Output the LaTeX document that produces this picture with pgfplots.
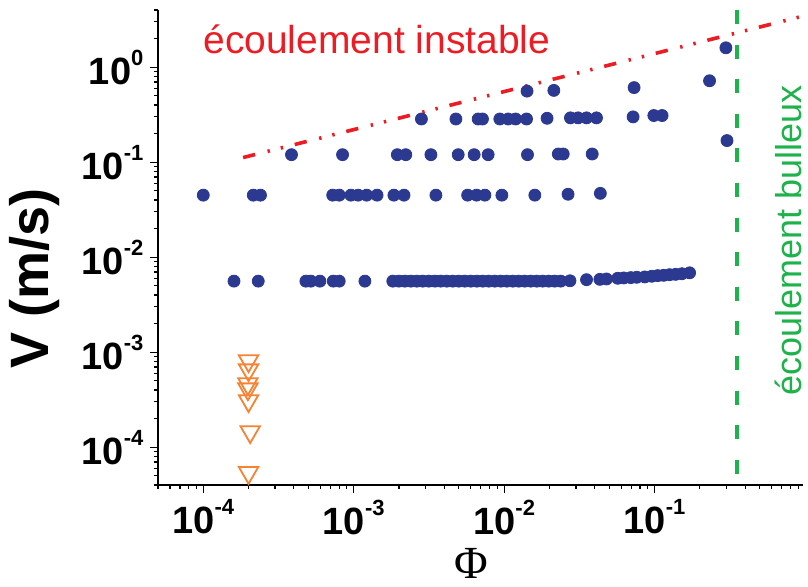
\documentclass[border=0pt]{standalone}
\usepackage{fontspec}
\setmainfont{Liberation Sans}
\newfontfamily\seriffont{Liberation Serif}
\usepackage{pgfplots}
\pgfplotsset{compat=1.18}
\definecolor{ptblue}{RGB}{43,57,144}
\definecolor{ptorange}{RGB}{246,130,50}
\definecolor{ecred}{RGB}{237,28,36}
\definecolor{ecgreen}{RGB}{30,178,75}
\newcommand{\tlab}[1]{\pgfmathtruncatemacro{\myexp}{round(#1)}10\raisebox{0.5em}{\fontsize{11}{11}\selectfont\myexp}}
\begin{document}
\begin{tikzpicture}
\begin{axis}[
  at={(79pt,50.5pt)}, anchor=south west,
  scale only axis, width=322.5pt, height=237.5pt,
  xmode=log, ymode=log, log basis x=10, log basis y=10,
  xmin=5e-5, xmax=0.97, ymin=4e-5, ymax=4,
  axis x line*=bottom, axis y line*=left,
  axis line style={line width=1pt, -},
  tick align=outside,
  major tick length=3.8pt, minor tick length=2pt,
  every tick/.style={black, line width=0.6pt},
  xticklabel={\tlab{\tick}}, yticklabel={\tlab{\tick}},
  ticklabel style={font=\bfseries\fontsize{19}{19}\selectfont},
  ylabel={V (m/s)},
  ylabel style={font=\bfseries\fontsize{27}{27}\selectfont, at={(axis description cs:-0.1907,0.434)}, anchor=center},
  clip mode=individual,
]
% red dash-dot-dot boundary
\addplot[ecred, line width=1.8pt, dash pattern=on 6.2pt off 6.4pt on 1.2pt off 5.6pt on 1.2pt off 6pt]
  coordinates {(1.84e-4,0.112) (0.97,3.45)};
% green dashed boundary
\addplot[ecgreen, line width=1.8pt, dash pattern=on 7pt off 10.3pt]
  coordinates {(0.353,4) (0.353,4e-5)};
% blue circles
\addplot[only marks, mark=*, mark size=3pt, color=ptblue, mark options={fill=ptblue, draw=ptblue}]
  coordinates {
  (1.0e-4,0.045) (2.15e-4,0.045) (2.40e-4,0.045) (7.25e-4,0.045) (8.02e-4,0.045)
  (9.58e-4,0.045) (1.07e-3,0.045) (1.22e-3,0.045) (1.43e-3,0.045) (1.85e-3,0.045)
  (2.16e-3,0.045) (3.52e-3,0.045) (5.72e-3,0.045) (6.56e-3,0.045) (7.45e-3,0.045)
  (9.66e-3,0.045) (0.0160,0.045) (0.0266,0.046) (0.0436,0.047)
  (3.86e-4,0.12) (8.43e-4,0.12) (1.95e-3,0.12) (2.22e-3,0.12) (3.26e-3,0.12)
  (4.95e-3,0.12) (6.32e-3,0.12) (7.83e-3,0.12) (0.0143,0.12) (0.0229,0.122)
  (0.0247,0.122) (0.0385,0.122)
  (2.82e-3,0.285) (4.78e-3,0.285) (6.72e-3,0.285) (7.18e-3,0.285) (9.36e-3,0.285)
  (0.01063,0.285) (0.01191,0.285) (0.01409,0.285) (0.0193,0.29) (0.0276,0.293)
  (0.0310,0.293) (0.0353,0.293) (0.0411,0.293) (0.0720,0.30) (0.0989,0.31) (0.1122,0.31)
  (0.0142,0.56) (0.0214,0.57) (0.0731,0.61)
  (0.232,0.72) (0.298,1.6) (0.303,0.169)
  (1.60e-4,5.6e-3) (2.32e-4,5.6e-3) (4.81e-4,5.6e-3) (5.19e-4,5.6e-3) (5.96e-4,5.6e-3)
  (7.31e-4,5.6e-3) (8.01e-4,5.6e-3) (1.187e-3,5.6e-3) (1.82e-3,5.6e-3) (2.00e-3,5.6e-3)
  (2.19e-3,5.6e-3) (2.40e-3,5.6e-3) (2.63e-3,5.6e-3) (2.88e-3,5.6e-3) (3.16e-3,5.6e-3)
  (3.47e-3,5.6e-3) (3.79e-3,5.6e-3) (4.16e-3,5.6e-3) (4.56e-3,5.6e-3) (5.00e-3,5.6e-3)
  (5.48e-3,5.6e-3) (6.01e-3,5.6e-3) (6.59e-3,5.6e-3) (7.22e-3,5.6e-3) (7.91e-3,5.6e-3)
  (8.67e-3,5.6e-3) (9.51e-3,5.6e-3) (0.01042,5.6e-3) (0.01143,5.6e-3) (0.01253,5.6e-3)
  (0.01372,5.6e-3) (0.01504,5.6e-3) (0.01649,5.6e-3) (0.01807,5.6e-3) (0.01982,5.6e-3)
  (0.0217,5.6e-3) (0.0238,5.6e-3) (0.0274,5.65e-3) (0.0353,5.8e-3) (0.0433,5.85e-3)
  (0.0479,5.9e-3) (0.0569,6.0e-3) (0.0624,6.05e-3) (0.0695,6.1e-3) (0.0762,6.15e-3)
  (0.0861,6.2e-3) (0.0957,6.3e-3) (0.105,6.4e-3) (0.115,6.45e-3) (0.126,6.55e-3)
  (0.138,6.6e-3) (0.152,6.7e-3) (0.171,6.85e-3)
  };
% orange open down-triangles
\addplot[only marks, mark=triangle, mark size=5.6pt, color=ptorange, mark options={rotate=180, line width=0.9pt, draw=ptorange, fill=none}]
  coordinates {(2e-4,8.1e-4) (2e-4,6.5e-4) (1.98e-4,4.65e-4) (1.98e-4,4.1e-4) (2e-4,3.08e-4) (2.05e-4,1.45e-4) (2e-4,5.4e-5)};
\node[anchor=base west, text=ecred, font=\fontsize{19.5}{19.5}\selectfont, inner sep=0pt] at (axis description cs:0.0698,0.9095) {écoulement instable};
\node[rotate=90, anchor=base, text=ecgreen, font=\fontsize{18}{18}\selectfont, inner sep=0pt] at (axis description cs:0.9984,0.5158) {écoulement bulleux};
\node[anchor=center, font=\seriffont\fontsize{23}{23}\selectfont, inner sep=0pt] at (axis description cs:0.485,-0.165) {Φ};
\end{axis}
\pgfresetboundingbox
\path[use as bounding box] (0,0) rectangle (404pt,293pt);
\end{tikzpicture}
\end{document}
